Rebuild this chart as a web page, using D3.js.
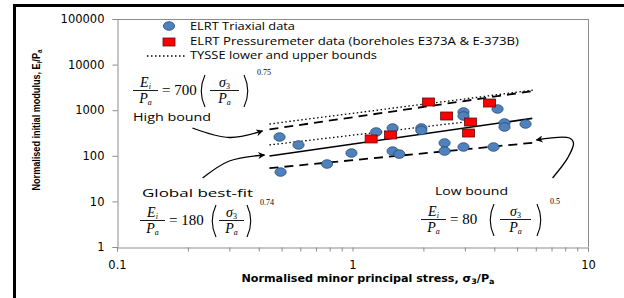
<!DOCTYPE html>
<html>
<head>
<meta charset="utf-8">
<script src="https://cdn.jsdelivr.net/npm/d3@7"></script>
<style>
  body { margin: 0; background: #fff; }
  svg { display: block; }
</style>
</head>
<body>
<svg id="chart" width="624" height="298"></svg>
<script>
// ELRT triaxial data (sigma3/Pa, Ei/Pa)
var triaxX = [0.49, 0.59, 0.495, 0.78, 0.99, 1.26, 1.48, 1.48, 1.58, 1.96, 1.96, 2.46, 2.46, 2.96, 2.96, 2.96, 3.97, 4.13, 4.42, 4.42, 5.43];
var triaxY = [258, 173, 44, 66, 115, 333, 407, 127, 109, 407, 360, 191, 127, 913, 746, 156, 156, 1063, 524, 428, 498];

// ELRT pressuremeter data
var pressX = [1.20, 1.45, 2.10, 2.51, 3.17, 3.11, 3.82];
var pressY = [234, 286, 1514, 746, 551, 316, 1438];

// fitted / bound lines, end points [x, y]
var bestFit = [[0.444, 99], [5.8, 662]];
var highBound = [[0.444, 380], [5.9, 2655]];
var lowBound = [[0.444, 53.5], [5.9, 194]];
var tysseUpper = [[0.444, 498], [5.9, 2773]];
var tysseLower = [[0.444, 173], [3.0, 551]];

// annotation arrows in data units
var arrowHigh = [[0.209, 407], [0.30, 252], [0.415, 350]];
var arrowFit = [[0.231, 32.6], [0.30, 76.9], [0.423, 104]];
var arrowLow = [[7.07, 32.6], [8.2, 90], [8.68, 191], [8.34, 246], [6.04, 222]];

var xTicks = [0.1, 0.2, 0.3, 0.4, 0.5, 0.6, 0.7, 0.8, 0.9, 1, 2, 3, 4, 5, 6, 7, 8, 9, 10];
var xLabels = [0.1, 1, 10];
var yTicks = [1, 10, 100, 1000, 10000, 100000];
var legendLabels = ["ELRT Triaxial data", "ELRT Pressuremeter data (boreholes E373A & E-373B)", "TYSSE lower and upper bounds"];
var legendWidths = [105, 329, 187];

var svg = d3.select("#chart");
var grey = "#8c8c8c";

// outer frame (thick black, top and left)
svg.append("rect").attr("x", 0).attr("y", 0).attr("width", 624).attr("height", 298).attr("fill", "#fff");
svg.append("line").attr("x1", 13).attr("x2", 624).attr("y1", 5.5).attr("y2", 5.5).attr("stroke", "#000").attr("stroke-width", 3);
svg.append("line").attr("x1", 14.5).attr("x2", 14.5).attr("y1", 4).attr("y2", 298).attr("stroke", "#000").attr("stroke-width", 3);

var x = d3.scaleLog().domain([0.1, 10]).range([117, 588]);
var y = d3.scaleLog().domain([1, 100000]).range([247, 19]);

// plot frame top / right
svg.append("line").attr("x1", 117).attr("x2", 588).attr("y1", 19.5).attr("y2", 19.5).attr("stroke", grey);
svg.append("line").attr("x1", 588.5).attr("x2", 588.5).attr("y1", 19).attr("y2", 247).attr("stroke", grey);

var yAxis = svg.append("g")
  .attr("transform", "translate(117.5,0)")
  .call(d3.axisLeft(y).tickValues(yTicks).tickFormat(d3.format("d")).tickSize(5).tickPadding(8));
var xAxis = svg.append("g")
  .attr("transform", "translate(0,247.5)")
  .call(d3.axisBottom(x).tickValues(xTicks)
    .tickFormat(function(d) { return xLabels.indexOf(d) >= 0 ? d3.format("")(d) : ""; })
    .tickSize(4).tickPadding(9));
[xAxis, yAxis].forEach(function(a) {
  a.select(".domain").attr("stroke", grey);
  a.selectAll(".tick line").attr("stroke", grey);
  a.selectAll(".tick text").attr("fill", "#000").style("font-family", "DejaVu Sans").style("font-size", "11.5px");
});

// axis titles
var xt = svg.append("text").attr("x", 368).attr("y", 282).attr("text-anchor", "middle")
  .attr("textLength", 253).attr("lengthAdjust", "spacingAndGlyphs")
  .style("font-family", "DejaVu Sans").style("font-weight", "bold").style("font-size", "10.5px");
xt.append("tspan").text("Normalised minor principal stress, ");
xt.append("tspan").text("σ");
xt.append("tspan").attr("dy", 2).style("font-size", "7.5px").text("3");
xt.append("tspan").attr("dy", -2).text("/P");
xt.append("tspan").attr("dy", 2).style("font-size", "7.5px").text("a");

var yt = svg.append("text").attr("transform", "translate(40,120) rotate(-90)").attr("text-anchor", "middle")
  .attr("textLength", 141).attr("lengthAdjust", "spacingAndGlyphs")
  .style("font-family", "Liberation Sans Narrow, Liberation Sans").style("font-weight", "bold").style("font-size", "10px");
yt.append("tspan").text("Normalised initial modulus, E");
yt.append("tspan").attr("dy", 2).style("font-size", "7px").text("i");
yt.append("tspan").attr("dy", -2).text("/P");
yt.append("tspan").attr("dy", 2).style("font-size", "7px").text("a");

// lines
var line = d3.line().x(function(d) { return x(d[0]); }).y(function(d) { return y(d[1]); });
function drawLine(data, dash, width) {
  svg.append("path").datum(data).attr("d", line).attr("fill", "none")
    .attr("stroke", "#000").attr("stroke-width", width).attr("stroke-dasharray", dash);
}
drawLine(tysseUpper, "1.5,2.5", 1.3);
drawLine(tysseLower, "1.5,2.5", 1.3);
drawLine(highBound, "9,6", 1.8);
drawLine(lowBound, "9,6", 1.8);
drawLine(bestFit, null, 1.6);

// points
var triax = triaxX.map(function(v, i) { return [v, triaxY[i]]; });
var press = pressX.map(function(v, i) { return [v, pressY[i]]; });
svg.append("g").selectAll("ellipse").data(triax).join("ellipse")
  .attr("cx", function(d) { return x(d[0]); }).attr("cy", function(d) { return y(d[1]); })
  .attr("rx", 5.6).attr("ry", 4.3)
  .attr("fill", "#4f81bd").attr("stroke", "#274a73").attr("stroke-width", 0.8);
svg.append("g").selectAll("rect").data(press).join("rect")
  .attr("x", function(d) { return x(d[0]) - 6; }).attr("y", function(d) { return y(d[1]) - 4; })
  .attr("width", 12).attr("height", 8)
  .attr("fill", "#ff0000").attr("stroke", "#5a1010").attr("stroke-width", 0.8);

// legend
var lg = svg.append("g").style("font-family", "Open Sans").style("font-size", "11px");
lg.append("ellipse").attr("cx", 169).attr("cy", 26).attr("rx", 5.6).attr("ry", 4.3)
  .attr("fill", "#4f81bd").attr("stroke", "#274a73").attr("stroke-width", 0.8);
lg.append("rect").attr("x", 163).attr("y", 38).attr("width", 12).attr("height", 8)
  .attr("fill", "#ff0000").attr("stroke", "#5a1010").attr("stroke-width", 0.8);
lg.append("line").attr("x1", 147).attr("x2", 186).attr("y1", 56).attr("y2", 56)
  .attr("stroke", "#000").attr("stroke-width", 1.3).attr("stroke-dasharray", "1.5,2.5");
lg.selectAll("text").data(legendLabels).join("text")
  .attr("x", 190).attr("y", function(d, i) { return 30 + i * 14.5; })
  .attr("textLength", function(d, i) { return legendWidths[i]; })
  .attr("lengthAdjust", "spacingAndGlyphs")
  .attr("fill", "#000")
  .text(function(d) { return d; });

// arrows
svg.append("defs").append("marker").attr("id", "head").attr("viewBox", "0 0 10 10")
  .attr("refX", 9).attr("refY", 5).attr("markerWidth", 9).attr("markerHeight", 7)
  .attr("markerUnits", "userSpaceOnUse").attr("orient", "auto")
  .append("path").attr("d", "M0,0 L10,5 L0,10 L3,5 z").attr("fill", "#000");
var curve = d3.line().x(function(d) { return x(d[0]); }).y(function(d) { return y(d[1]); }).curve(d3.curveCatmullRom);
[arrowHigh, arrowFit, arrowLow].forEach(function(a) {
  svg.append("path").datum(a).attr("d", curve).attr("fill", "none").attr("stroke", "#000")
    .attr("stroke-width", 1.3).attr("marker-end", "url(#head)");
});

// labels
var lab = svg.append("g").style("font-family", "Open Sans").style("font-size", "11.5px").attr("fill", "#000");
lab.append("text").attr("x", 133).attr("y", 121).attr("textLength", 78).attr("lengthAdjust", "spacingAndGlyphs").text("High bound");
lab.append("text").attr("x", 142).attr("y", 197).attr("textLength", 111).attr("lengthAdjust", "spacingAndGlyphs").text("Global best-fit");
lab.append("text").attr("x", 435).attr("y", 195).attr("textLength", 73).attr("lengthAdjust", "spacingAndGlyphs").text("Low bound");

// formulas Ei/Pa = c (s3/Pa)^n
function formula(fx, fy, coef, pl, pr, expo, gap) {
  var g = svg.append("g").style("font-family", "Liberation Serif").attr("fill", "#000");
  g.append("line").attr("x1", fx).attr("x2", fx + 25).attr("y1", fy + 0.5).attr("y2", fy + 0.5).attr("stroke", "#000").attr("stroke-width", 0.9);
  var t = g.append("text").attr("x", fx + 12.5).attr("y", fy - 3).attr("text-anchor", "middle").style("font-style", "italic").style("font-size", "14px");
  t.append("tspan").text("E");
  t.append("tspan").attr("dy", 2).style("font-size", "8px").text("i");
  var b = g.append("text").attr("x", fx + 12.5).attr("y", fy + 13).attr("text-anchor", "middle").style("font-style", "italic").style("font-size", "14px");
  b.append("tspan").text("P");
  b.append("tspan").attr("dy", 2).style("font-size", "8px").text("a");
  g.append("text").attr("x", fx + 29).attr("y", fy + 5).style("font-size", "15px").text(coef);
  [pl, pr].forEach(function(p, k) {
    var s = k === 0 ? 1 : -1;
    var xe = p + s * 6;
    g.append("path").attr("d", "M" + xe + "," + (fy - 15) + " Q" + (p - s * 1.5) + "," + (fy + 1) + " " + xe + "," + (fy + 17))
      .attr("fill", "none").attr("stroke", "#000").attr("stroke-width", 1.1);
  });
  g.append("line").attr("x1", pl + gap).attr("x2", pr - gap).attr("y1", fy + 0.5).attr("y2", fy + 0.5).attr("stroke", "#000").attr("stroke-width", 0.9);
  var st = g.append("text").attr("x", (pl + pr) / 2).attr("y", fy - 3).attr("text-anchor", "middle").style("font-style", "italic").style("font-size", "14px");
  st.append("tspan").text("σ");
  st.append("tspan").attr("dy", 2).style("font-size", "8px").style("font-style", "normal").text("3");
  var pb = g.append("text").attr("x", (pl + pr) / 2).attr("y", fy + 13).attr("text-anchor", "middle").style("font-style", "italic").style("font-size", "14px");
  pb.append("tspan").text("P");
  pb.append("tspan").attr("dy", 2).style("font-size", "8px").text("a");
  g.append("text").attr("x", pr + 7).attr("y", fy - 15).attr("fill", "#000").style("font-size", "8px").text(expo);
}
formula(133, 90, "= 700", 199, 250, "0.75", 11);
formula(140, 220, "= 180", 210, 253, "0.74", 9);
formula(421, 219, "=  80", 488, 543, "0.5", 12);
</script>
</body>
</html>
